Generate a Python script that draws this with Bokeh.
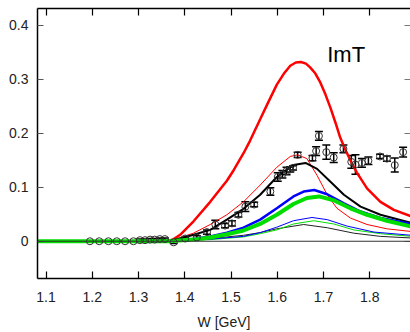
from bokeh.plotting import figure
from bokeh.models import ColumnDataSource, Whisker, TeeHead, Span, Label, LinearAxis, FixedTicker, Range1d
from bokeh.embed import file_html
from bokeh.resources import INLINE

FONT = "Liberation Sans"

# ---- data ----
x_ticks = [1.1, 1.2, 1.3, 1.4, 1.5, 1.6, 1.7, 1.8]
y_ticks = [0, 0.1, 0.2, 0.3, 0.4]

red_thick_w = [1.080, 1.362, 1.376, 1.390, 1.419, 1.455, 1.491, 1.506, 1.527, 1.541, 1.563, 1.578, 1.599,
               1.614, 1.628, 1.640, 1.651, 1.662, 1.671, 1.682, 1.693, 1.704, 1.715, 1.726, 1.736, 1.747,
               1.758, 1.772, 1.794, 1.823, 1.852, 1.890]
red_thick_v = [0.0, 0.0, 0.004, 0.012, 0.037, 0.073, 0.112, 0.132, 0.163, 0.186, 0.226, 0.253, 0.290,
               0.310, 0.325, 0.331, 0.332, 0.329, 0.322, 0.311, 0.294, 0.272, 0.247, 0.219, 0.192, 0.170,
               0.150, 0.127, 0.098, 0.073, 0.058, 0.046]

red_thin_w = [1.080, 1.362, 1.390, 1.419, 1.455, 1.491, 1.527, 1.563, 1.599, 1.628, 1.644, 1.664, 1.686,
              1.708, 1.729, 1.758, 1.794, 1.837, 1.890]
red_thin_v = [0.0, 0.0, 0.007, 0.015, 0.031, 0.049, 0.073, 0.104, 0.137, 0.157, 0.160, 0.153, 0.122,
              0.086, 0.061, 0.043, 0.031, 0.023, 0.018]

black_w = [1.080, 1.362, 1.390, 1.419, 1.455, 1.491, 1.527, 1.563, 1.599, 1.635, 1.661, 1.686, 1.715,
           1.744, 1.780, 1.823, 1.890]
black_v = [0.0, 0.0, 0.005, 0.012, 0.021, 0.040, 0.060, 0.086, 0.119, 0.141, 0.145, 0.134, 0.110,
           0.086, 0.064, 0.049, 0.034]

blue_w = [1.080, 1.362, 1.419, 1.455, 1.491, 1.527, 1.563, 1.599, 1.635, 1.657, 1.680, 1.708, 1.744,
          1.780, 1.823, 1.890]
blue_v = [0.0, 0.0, 0.004, 0.009, 0.016, 0.025, 0.040, 0.061, 0.083, 0.092, 0.095, 0.087, 0.070,
          0.055, 0.043, 0.032]

green_w = [1.080, 1.362, 1.419, 1.455, 1.491, 1.527, 1.563, 1.599, 1.635, 1.664, 1.690, 1.722, 1.758,
           1.794, 1.837, 1.890]
green_v = [0.0, 0.0, 0.003, 0.007, 0.013, 0.020, 0.032, 0.049, 0.069, 0.080, 0.083, 0.076, 0.061,
           0.049, 0.038, 0.027]

blue_thin_w = [1.080, 1.362, 1.455, 1.527, 1.563, 1.599, 1.635, 1.675, 1.708, 1.751, 1.809, 1.890]
blue_thin_v = [0.0, 0.0, 0.004, 0.009, 0.016, 0.026, 0.038, 0.044, 0.040, 0.028, 0.017, 0.011]

green_thin_w = [1.080, 1.362, 1.455, 1.527, 1.563, 1.599, 1.635, 1.679, 1.722, 1.765, 1.823, 1.890]
green_thin_v = [0.0, 0.0, 0.003, 0.008, 0.014, 0.021, 0.032, 0.038, 0.032, 0.021, 0.014, 0.009]

black_thin_w = [1.080, 1.362, 1.455, 1.491, 1.527, 1.563, 1.599, 1.657, 1.708, 1.765, 1.823, 1.890]
black_thin_v = [0.0, 0.0, 0.005, 0.008, 0.011, 0.016, 0.023, 0.031, 0.025, 0.015, 0.009, 0.006]

data_w = [1.195, 1.215, 1.235, 1.253, 1.271, 1.289, 1.303, 1.314, 1.325, 1.335, 1.346, 1.357, 1.376,
          1.401, 1.426, 1.448, 1.466, 1.487, 1.502, 1.516, 1.531, 1.550, 1.585, 1.601, 1.611, 1.620,
          1.628, 1.634, 1.644, 1.676, 1.684, 1.690, 1.706, 1.722, 1.743, 1.760, 1.769, 1.783, 1.797,
          1.822, 1.837, 1.854, 1.872]
data_v = [0.000, 0.000, 0.000, 0.000, 0.000, 0.000, 0.002, 0.002, 0.003, 0.003, 0.004, 0.004, -0.002,
          0.005, 0.007, 0.017, 0.031, 0.029, 0.033, 0.049, 0.064, 0.068, 0.092, 0.119, 0.124, 0.130,
          0.133, 0.136, 0.160, 0.154, 0.167, 0.195, 0.165, 0.155, 0.171, 0.147, 0.142, 0.145, 0.149,
          0.157, 0.153, 0.141, 0.165]
data_err = [0.001, 0.001, 0.001, 0.001, 0.001, 0.001, 0.002, 0.002, 0.002, 0.002, 0.002, 0.002, 0.002,
            0.003, 0.003, 0.004, 0.008, 0.004, 0.005, 0.004, 0.009, 0.004, 0.007, 0.008, 0.007, 0.007,
            0.005, 0.004, 0.005, 0.005, 0.008, 0.008, 0.013, 0.009, 0.007, 0.012, 0.018, 0.008, 0.007,
            0.004, 0.005, 0.013, 0.009]

# ---- figure ----
p = figure(width=410, height=332, output_backend="svg", toolbar_location=None,
           x_range=Range1d(1.0816, 1.888), y_range=Range1d(-0.069, 0.431),
           min_border_left=37, min_border_right=0, min_border_top=8, min_border_bottom=51,
           x_axis_label="W [GeV]")
p.outline_line_color = None
p.background_fill_color = "white"
p.border_fill_color = "white"
p.xgrid.visible = False
p.ygrid.visible = False

for ax in p.xaxis:
    ax.ticker = FixedTicker(ticks=x_ticks)
    ax.minor_tick_line_color = None
    ax.major_tick_in = 7
    ax.major_tick_out = 0
    ax.axis_line_width = 1.5
    ax.major_tick_line_width = 1.2
    ax.axis_line_color = "black"
    ax.major_label_text_font = FONT
    ax.major_label_text_font_size = "14px"
    ax.major_label_text_color = "#222222"
    ax.major_label_standoff = 13
    ax.axis_label_text_font = FONT
    ax.axis_label_text_font_size = "14px"
    ax.axis_label_text_font_style = "normal"
    ax.axis_label_text_color = "#222222"
    ax.axis_label_standoff = 9

for ax in p.yaxis:
    ax.ticker = FixedTicker(ticks=y_ticks)
    ax.major_label_overrides = {0: "0"}
    ax.minor_tick_line_color = None
    ax.major_tick_in = 6
    ax.major_tick_out = 0
    ax.axis_line_width = 1.5
    ax.major_tick_line_color = "#555555"
    ax.major_tick_line_width = 1.2
    ax.major_label_text_font = FONT
    ax.major_label_text_font_size = "14px"
    ax.major_label_text_color = "#222222"
    ax.major_label_standoff = 9

# mirrored tick marks on top and right (no labels drawn there)
top = LinearAxis(ticker=FixedTicker(ticks=x_ticks), major_tick_in=7, major_tick_out=0,
                 minor_tick_line_color=None, axis_line_width=1.5, major_tick_line_width=1.2,
                 major_label_text_color=None, major_label_text_font_size="1px", major_label_standoff=0)
p.add_layout(top, "above")
right = LinearAxis(ticker=FixedTicker(ticks=y_ticks), major_tick_in=6, major_tick_out=0,
                   minor_tick_line_color=None, axis_line_color=None, major_tick_line_color="#777777",
                   major_tick_line_width=1.2, major_label_text_color=None,
                   major_label_text_font_size="1px", major_label_standoff=0)
p.add_layout(right, "right")

p.add_layout(Span(location=0, dimension="width", line_color="#333333", line_width=1.2))

# thin curves
p.line(black_thin_w, black_thin_v, line_color="#222222", line_width=1)
p.line(green_thin_w, green_thin_v, line_color="#00dd00", line_width=1)
p.line(blue_thin_w, blue_thin_v, line_color="#0000ff", line_width=1)
p.line(red_thin_w, red_thin_v, line_color="#ff0000", line_width=1)
# thick curves
p.line(red_thick_w, red_thick_v, line_color="#ff0000", line_width=2.5)
p.line(black_w, black_v, line_color="black", line_width=2)
p.line(blue_w, blue_v, line_color="#0000ff", line_width=2.5)
p.line(green_w, green_v, line_color="#00dd00", line_width=4)

# data with error bars
src = ColumnDataSource(dict(w=data_w, v=data_v,
                            lo=[a - b for a, b in zip(data_v, data_err)],
                            hi=[a + b for a, b in zip(data_v, data_err)]))
p.add_layout(Whisker(source=src, base="w", upper="hi", lower="lo", line_color="black", line_width=1.5,
                     upper_head=TeeHead(size=8, line_color="black", line_width=1.5),
                     lower_head=TeeHead(size=8, line_color="black", line_width=1.5)))
p.scatter("w", "v", source=src, size=7, marker="circle", fill_color=None, line_color="#333333",
          line_width=1)

p.add_layout(Label(x=1.708, y=0.346, text="ImT", text_font=FONT, text_font_size="22px",
                   text_color="black", text_baseline="alphabetic"))

open("out.html", "w").write(file_html(p, INLINE))
